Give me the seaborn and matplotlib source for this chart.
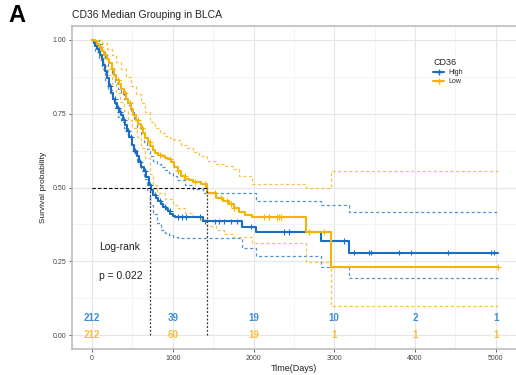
import numpy as np
import pandas as pd
import matplotlib
matplotlib.use("Agg")
import matplotlib.pyplot as plt
import seaborn as sns
from matplotlib.lines import Line2D

# ---------------- data ----------------
groups = ["High", "Low"]
colors = {"High": "#1B6EC2", "Low": "#F5B400"}
text_colors = {"High": "#3D8ED8", "Low": "#F7BE3A"}

high_t = [0, 20, 40, 60, 80, 100, 120, 140, 160, 185, 210, 235, 260, 285, 310, 335, 360, 385, 410, 435,
          460, 490, 520, 550, 580, 610, 640, 670, 700, 730, 760, 790, 820, 850, 880, 910, 940, 970, 1000,
          1030, 1369, 1862, 2035, 2836, 3181, 5030]
high_s = [1.0, 0.99, 0.98, 0.97, 0.96, 0.95, 0.935, 0.915, 0.895, 0.87, 0.845, 0.82, 0.80, 0.785, 0.77,
          0.755, 0.745, 0.73, 0.71, 0.69, 0.67, 0.645, 0.625, 0.605, 0.585, 0.57, 0.555, 0.535, 0.51, 0.49,
          0.475, 0.465, 0.455, 0.445, 0.435, 0.428, 0.42, 0.412, 0.405, 0.40, 0.385, 0.368, 0.348, 0.318,
          0.280, 0.280]

high_up_t = [0, 40, 80, 120, 160, 200, 240, 280, 320, 360, 400, 440, 480, 520, 560, 600, 640, 680, 720,
             760, 800, 850, 900, 950, 1000, 1048, 1150, 1250, 1369, 2035, 2836, 3181, 5030]
high_up = [1.0, 1.0, 0.985, 0.96, 0.935, 0.91, 0.88, 0.855, 0.835, 0.815, 0.80, 0.78, 0.755, 0.73, 0.705,
           0.68, 0.655, 0.63, 0.605, 0.59, 0.58, 0.57, 0.56, 0.55, 0.54, 0.524, 0.51, 0.495, 0.483, 0.453,
           0.44, 0.416, 0.416]

high_lo_t = [0, 40, 80, 120, 160, 200, 240, 280, 320, 360, 400, 440, 480, 520, 560, 600, 640, 680, 720,
             760, 800, 850, 900, 950, 1000, 1060, 1862, 2035, 2836, 3181, 5030]
high_lo = [1.0, 0.96, 0.93, 0.90, 0.86, 0.83, 0.80, 0.77, 0.74, 0.72, 0.70, 0.675, 0.645, 0.62, 0.59,
           0.56, 0.53, 0.49, 0.44, 0.41, 0.38, 0.355, 0.345, 0.338, 0.333, 0.328, 0.294, 0.267, 0.23,
           0.193, 0.193]

low_t = [0, 30, 60, 90, 120, 150, 180, 210, 240, 270, 300, 330, 360, 390, 420, 450, 480, 510, 540, 570,
         600, 630, 660, 690, 720, 750, 780, 820, 860, 900, 940, 980, 1020, 1060, 1100, 1150, 1200, 1250,
         1300, 1350, 1418, 1541, 1620, 1702, 1760, 1825, 1900, 1985, 2651, 2959, 5030]
low_s = [1.0, 0.995, 0.985, 0.975, 0.962, 0.95, 0.935, 0.92, 0.90, 0.88, 0.865, 0.85, 0.835, 0.82, 0.80,
         0.785, 0.765, 0.745, 0.73, 0.715, 0.70, 0.685, 0.668, 0.655, 0.64, 0.628, 0.618, 0.61, 0.605,
         0.60, 0.595, 0.585, 0.57, 0.555, 0.54, 0.53, 0.525, 0.52, 0.517, 0.512, 0.483, 0.466, 0.455,
         0.443, 0.43, 0.416, 0.408, 0.399, 0.348, 0.23, 0.23]

low_up_t = [0, 60, 120, 180, 240, 300, 360, 420, 480, 540, 600, 660, 720, 780, 840, 900, 960, 1020, 1100,
            1170, 1250, 1330, 1418, 1541, 1640, 1740, 1825, 1985, 2651, 2959, 5030]
low_up = [1.0, 1.0, 0.99, 0.97, 0.95, 0.925, 0.90, 0.875, 0.845, 0.815, 0.785, 0.755, 0.72, 0.70, 0.685,
          0.675, 0.668, 0.66, 0.645, 0.632, 0.62, 0.605, 0.59, 0.58, 0.572, 0.564, 0.54, 0.513, 0.497,
          0.557, 0.557]

low_lo_t = [0, 50, 100, 150, 200, 250, 300, 350, 400, 450, 500, 550, 600, 650, 715, 760, 800, 900, 1000,
            1048, 1150, 1250, 1332, 1418, 1541, 1640, 1740, 1985, 2651, 2959, 5030]
low_lo = [1.0, 0.975, 0.946, 0.91, 0.88, 0.85, 0.82, 0.79, 0.76, 0.73, 0.70, 0.67, 0.635, 0.60, 0.547,
          0.51, 0.48, 0.46, 0.44, 0.432, 0.415, 0.40, 0.389, 0.37, 0.355, 0.343, 0.331, 0.311, 0.247,
          0.098, 0.098]

high_censor = [222, 284, 321, 345, 394, 444, 481, 530, 592, 653, 715, 777, 838, 900, 962, 1060, 1110, 1159,
               1332, 1393, 1517, 1578, 1640, 1726, 1800, 1973, 2380, 2441, 3120, 3243, 3428, 3453, 3798, 3946,
               4414, 4945, 4982]
low_censor = [99, 160, 247, 320, 407, 469, 567, 617, 715, 838, 962, 1060, 1147, 1270, 1393, 1517, 1603,
              1677, 1726, 1763, 2133, 2195, 2293, 2318, 2343, 2688, 2873, 5030]

risk_times = [0, 1000, 2000, 3000, 4000, 5000]
risk_high = [212, 39, 19, 10, 2, 1]
risk_low = [212, 60, 19, 1, 1, 1]

median_high = 715
median_low = 1418
pval_text = "p = 0.022"

# ---------------- build tables ----------------
series = [
    ("High", "surv", high_t, high_s), ("High", "upper", high_up_t, high_up), ("High", "lower", high_lo_t, high_lo),
    ("Low", "surv", low_t, low_s), ("Low", "upper", low_up_t, low_up), ("Low", "lower", low_lo_t, low_lo),
]
rows = []
for g, kind, tt, vv in series:
    for ti, vi in zip(tt, vv):
        rows.append(dict(group=g, kind=kind, time=ti, value=vi))
df = pd.DataFrame(rows)


def step_value(g, t):
    sub = df[(df.group == g) & (df.kind == "surv")].sort_values("time")
    tt = sub.time.values
    ss = sub.value.values
    idx = np.searchsorted(tt, t, side="right") - 1
    return ss[min(max(idx, 0), len(ss) - 1)]


cens = pd.DataFrame(
    [dict(group="High", time=t) for t in high_censor] + [dict(group="Low", time=t) for t in low_censor]
)
cens["value"] = [step_value(g, t) for g, t in zip(cens.group, cens.time)]

# ---------------- plot ----------------
sns.set_theme(style="whitegrid")
plt.rcParams["font.family"] = ["Liberation Sans", "DejaVu Sans"]

fig = plt.figure(figsize=(5.16, 3.75), dpi=100)
ax = fig.add_axes([0.1395, 0.069, 0.86, 0.862])
ax.set_facecolor("white")

for kind in ["upper", "lower"]:
    sns.lineplot(data=df[df.kind == kind], x="time", y="value", hue="group", palette=colors, ax=ax,
                 estimator=None, drawstyle="steps-post", linestyle=(0, (2.5, 2)), linewidth=0.9,
                 alpha=0.75, legend=False)

sns.lineplot(data=df[df.kind == "surv"], x="time", y="value", hue="group", palette=colors, ax=ax,
             estimator=None, drawstyle="steps-post", linewidth=1.5, legend=False)
sns.scatterplot(data=cens, x="time", y="value", hue="group", palette=colors, ax=ax, marker="+",
                s=18, linewidth=0.8, legend=False)

# median lines
ax.plot([0, median_low], [0.5, 0.5], color="black", linestyle=(0, (3, 2)), linewidth=0.8)
for m in [median_high, median_low]:
    ax.plot([m, m], [0, 0.5], color="#333333", linestyle=(0, (1.5, 1.5)), linewidth=0.9)

# risk numbers
for t, n in zip(risk_times, risk_high):
    ax.text(t, 0.057, str(n), color=text_colors["High"], ha="center", va="center", fontsize=7, fontweight="bold")
for t, n in zip(risk_times, risk_low):
    ax.text(t, 0.0, str(n), color=text_colors["Low"], ha="center", va="center", fontsize=7, fontweight="bold")

ax.text(90, 0.30, "Log-rank", fontsize=7.5, color="#222222", ha="left", va="center")
ax.text(90, 0.20, pval_text, fontsize=7.5, color="#222222", ha="left", va="center")

ax.set_xlim(-250, 5250)
ax.set_ylim(-0.047, 1.047)
ax.set_xticks([0, 1000, 2000, 3000, 4000, 5000])
ax.set_xticks([500, 1500, 2500, 3500, 4500], minor=True)
ax.set_yticks([0, 0.25, 0.5, 0.75, 1.0])
ax.set_yticklabels(["0.00", "0.25", "0.50", "0.75", "1.00"])
ax.set_yticks([0.125, 0.375, 0.625, 0.875], minor=True)
ax.grid(which="major", color="#E6E6E6", linewidth=0.8)
ax.grid(which="minor", color="#F2F2F2", linewidth=0.6)
ax.tick_params(axis="both", which="major", labelsize=5, colors="#444444", length=2, width=0.6,
               direction="out", left=True, bottom=True, pad=2)
ax.tick_params(which="minor", length=0)
for sp in ax.spines.values():
    sp.set_color("#B8B8B8")
    sp.set_linewidth(1.1)
ax.spines["right"].set_visible(False)

ax.set_xlabel("Time(Days)", fontsize=6.5, color="#222222", labelpad=2)
ax.set_ylabel("Survival probability", fontsize=6, color="#222222", labelpad=4)

# legend
handles = [Line2D([0], [0], color=colors[g], linewidth=1.5, marker="+", markersize=4) for g in groups]
leg = ax.legend(handles, groups, title="CD36", loc="upper left", bbox_to_anchor=(0.80, 0.92),
                frameon=False, fontsize=5, title_fontsize=6.5, handlelength=1.6, labelspacing=0.3,
                handletextpad=0.6, alignment="left")

fig.text(72 / 516, 1 - 15 / 375, "CD36 Median Grouping in BLCA", fontsize=7.5, color="#222222",
         ha="left", va="center")
fig.text(8 / 516, 1 - 16 / 375, "A", fontsize=17, fontweight="bold", color="black", ha="left", va="center")

fig.savefig("out.png", dpi=100)
